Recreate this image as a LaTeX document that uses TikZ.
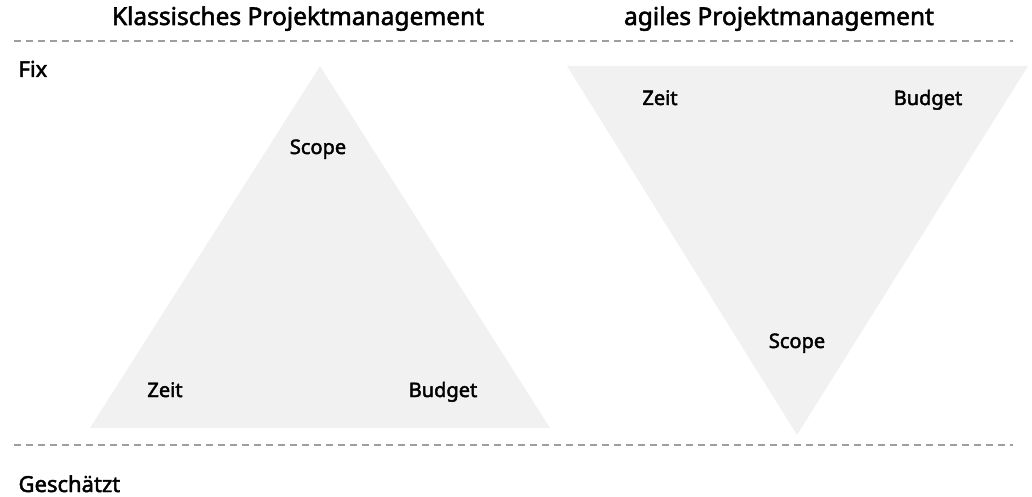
\documentclass[tikz,border=0pt]{standalone}
\usepackage{fontspec}
\setmainfont{Noto Sans}
\newfontfamily\medfont{Noto Sans}[FakeBold=2.2]
\definecolor{triangle}{HTML}{F1F1F1}
\definecolor{divider}{HTML}{9E9E9E}

\begin{document}
\begin{tikzpicture}[x=1pt, y=-1pt,
    heading/.style ={anchor=base, font=\medfont\fontsize{24.5}{30}\selectfont},
    row/.style ={anchor=base west, font=\medfont\fontsize{22}{26}\selectfont},
    corner/.style ={anchor=base, font=\medfont\fontsize{20}{24}\selectfont},
    divide/.style ={draw=divider, line width=1.5pt, dash pattern=on 7pt off 5pt}]
   \useasboundingbox (0,0) rectangle (1032,497);
   % headings and rows
   \node[heading] (klassisch) at (298,25) {Klassisches Projektmanagement};
   \node[heading] (agil) at (779,25) {agiles Projektmanagement};
   \node[row] (fix) at (15,77) {Fix};
   \node[row] (geschaetzt) at (15,492) {Geschätzt};
   \coordinate (T1) at (14,41);
   \coordinate (T2) at (1013,41);
   \coordinate (B1) at (14,445);
   \coordinate (B2) at (1013,445);
   \draw[divide] (T1) to (T2);
   \draw[divide] (B1) to (B2);
   % classic triangle
   \coordinate (KA) at (320,66);
   \coordinate (KB) at (90,428);
   \coordinate (KC) at (550,428);
   \fill[triangle] (KA) -- (KB) -- (KC) -- cycle;
   \node[corner] (kscope) at (318,154) {Scope};
   \node[corner] (kzeit) at (165,397) {Zeit};
   \node[corner] (kbudget) at (443,397) {Budget};
   % agile triangle
   \coordinate (AA) at (567,66);
   \coordinate (AB) at (1028,66);
   \coordinate (AC) at (797,435);
   \fill[triangle] (AA) -- (AB) -- (AC) -- cycle;
   \node[corner] (azeit) at (660,105) {Zeit};
   \node[corner] (abudget) at (928,105) {Budget};
   \node[corner] (ascope) at (797,348) {Scope};
 \end{tikzpicture}
\end{document}
